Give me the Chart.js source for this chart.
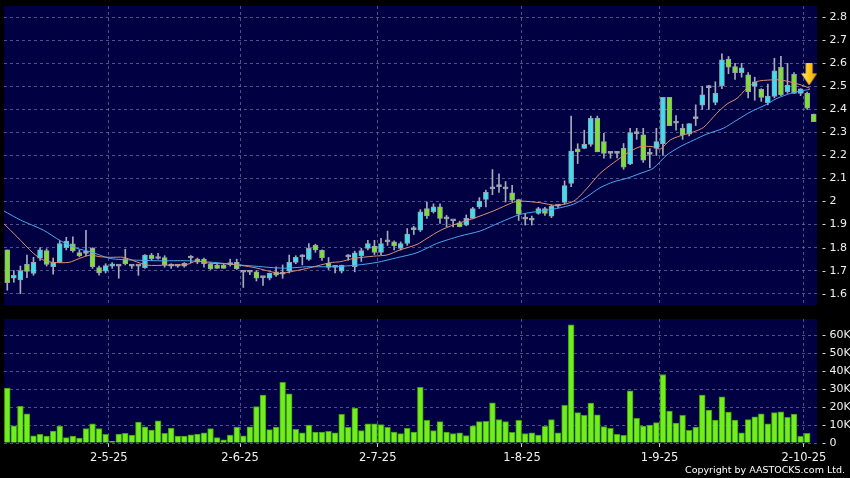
<!DOCTYPE html>
<html>
<head>
<meta charset="utf-8">
<script src="https://cdn.jsdelivr.net/npm/chart.js@4.4.1/dist/chart.umd.min.js"></script>
<style>
  html, body { margin: 0; padding: 0; background: #000; }
  #wrap { position: relative; width: 850px; height: 478px; overflow: hidden; background: #000; }
  #priceChart { position: absolute; left: 0; top: 0; }
  #volChart { position: absolute; left: 0; top: 310px; }
  #copy { position: absolute; right: 5px; top: 465px; color: #fff; font: 9.5px 'DejaVu Sans', sans-serif; line-height: 1; white-space: nowrap; }
</style>
</head>
<body>
<div id="wrap">
  <canvas id="priceChart" width="850" height="312"></canvas>
  <canvas id="volChart" width="850" height="168"></canvas>
  <div id="copy">Copyright by AASTOCKS.com Ltd.</div>
</div>
<script>
// ---- data ----
const dateLabels = ['2-5-25', '2-6-25', '2-7-25', '1-8-25', '1-9-25', '2-10-25'];
const dateTickPos = [15.5, 35.5, 56.5, 78.5, 99.5, 121.5];

const priceTicks = [1.6, 1.7, 1.8, 1.9, 2.0, 2.1, 2.2, 2.3, 2.4, 2.5, 2.6, 2.7, 2.8];
const volTicks = [0, 10000, 20000, 30000, 40000, 50000, 60000];
const volTickLabels = ['0', '10K', '20K', '30K', '40K', '50K', '60K'];

const openP = [1.79,1.667,1.66,1.728,1.688,1.754,1.787,1.717,1.737,1.80,
  1.817,1.779,1.775,1.797,1.713,1.698,1.72,1.72,1.752,1.72,
  1.72,1.713,1.768,1.76,1.757,1.72,1.72,1.72,1.755,1.75,
  1.75,1.729,1.724,1.724,1.725,1.736,1.693,1.693,1.695,1.67,
  1.667,1.695,1.685,1.698,1.736,1.76,1.749,1.81,1.788,1.732,
  1.714,1.698,1.76,1.717,1.765,1.797,1.807,1.779,1.825,1.825,
  1.797,1.818,1.878,1.876,1.97,1.956,1.977,1.925,1.916,1.908,
  1.898,1.927,1.977,2.009,2.055,2.065,2.055,2.038,2.009,1.924,
  1.919,1.949,1.97,1.937,1.98,1.996,2.079,2.229,2.231,2.248,
  2.361,2.26,2.209,2.209,2.231,2.163,2.295,2.29,2.205,2.231,
  2.25,2.452,2.34,2.318,2.293,2.36,2.419,2.495,2.43,2.503,
  2.619,2.586,2.56,2.55,2.50,2.487,2.429,2.456,2.583,2.477,
  2.552,2.47,2.47,2.38];
const highP = [1.79,1.70,1.72,1.768,1.758,1.80,1.795,1.755,1.83,1.845,
  1.847,1.79,1.875,1.80,1.72,1.73,1.735,1.725,1.793,1.725,
  1.725,1.77,1.775,1.775,1.765,1.73,1.725,1.735,1.765,1.755,
  1.755,1.735,1.73,1.73,1.75,1.75,1.695,1.695,1.70,1.672,
  1.69,1.717,1.725,1.768,1.765,1.77,1.818,1.815,1.79,1.757,
  1.72,1.724,1.77,1.785,1.797,1.832,1.832,1.84,1.872,1.83,
  1.825,1.883,1.893,1.965,1.998,1.99,1.99,1.94,1.92,1.915,
  1.942,1.975,2.017,2.05,2.139,2.12,2.087,2.07,2.01,1.948,
  1.937,1.975,1.975,1.985,1.985,2.09,2.371,2.251,2.31,2.371,
  2.371,2.296,2.215,2.215,2.252,2.318,2.318,2.318,2.23,2.318,
  2.452,2.452,2.373,2.336,2.339,2.42,2.50,2.505,2.52,2.641,
  2.63,2.60,2.60,2.56,2.54,2.49,2.51,2.622,2.63,2.60,
  2.56,2.49,2.475,2.38];
const lowP = [1.615,1.65,1.60,1.67,1.68,1.745,1.72,1.685,1.735,1.79,
  1.78,1.76,1.765,1.71,1.68,1.69,1.71,1.667,1.725,1.71,
  1.68,1.71,1.745,1.75,1.715,1.71,1.715,1.715,1.735,1.73,
  1.715,1.705,1.71,1.71,1.72,1.705,1.627,1.683,1.655,1.636,
  1.66,1.675,1.667,1.69,1.73,1.725,1.745,1.78,1.745,1.705,
  1.69,1.69,1.745,1.695,1.74,1.79,1.77,1.77,1.81,1.79,
  1.79,1.81,1.857,1.87,1.927,1.95,1.905,1.89,1.89,1.89,
  1.895,1.925,1.97,1.977,2.03,2.04,1.998,2.0,1.918,1.898,
  1.898,1.945,1.94,1.93,1.975,1.99,2.065,2.165,2.23,2.24,
  2.216,2.188,2.188,2.19,2.14,2.16,2.27,2.17,2.147,2.20,
  2.20,2.33,2.31,2.27,2.285,2.33,2.40,2.40,2.42,2.49,
  2.555,2.53,2.54,2.45,2.44,2.435,2.42,2.45,2.46,2.47,
  2.47,2.46,2.40,2.347];
const closeP = [1.648,1.68,1.70,1.697,1.736,1.79,1.727,1.735,1.818,1.829,
  1.787,1.765,1.775,1.717,1.69,1.722,1.73,1.72,1.73,1.72,
  1.72,1.768,1.752,1.753,1.725,1.72,1.72,1.732,1.755,1.737,
  1.73,1.708,1.71,1.71,1.735,1.709,1.693,1.693,1.667,1.67,
  1.688,1.681,1.685,1.736,1.758,1.76,1.797,1.79,1.756,1.714,
  1.714,1.724,1.76,1.778,1.787,1.818,1.779,1.818,1.825,1.808,
  1.818,1.859,1.878,1.956,1.938,1.977,1.927,1.925,1.916,1.891,
  1.927,1.97,2.002,2.04,2.055,2.065,2.055,2.006,1.945,1.924,
  1.919,1.97,1.949,1.98,1.98,2.069,2.219,2.216,2.248,2.361,
  2.216,2.209,2.209,2.209,2.149,2.30,2.295,2.18,2.205,2.26,
  2.452,2.33,2.34,2.289,2.339,2.36,2.463,2.495,2.47,2.615,
  2.583,2.56,2.581,2.477,2.52,2.452,2.458,2.568,2.463,2.506,
  2.47,2.489,2.405,2.347];

// volume in thousands
const volK = [30.5,9.6,20.4,16.3,4,4.8,3.9,6.7,9.4,3,
  3.9,2.8,8,10.7,8,4.8,0.9,5,5.4,4.4,
  11.7,9,7.2,12.4,5.4,8.3,3.9,3.9,4.6,5,
  5.7,8,3,1.7,4.4,8.9,4,9,20.2,26.7,
  7.4,8.9,33.7,27.4,7.6,5.7,10,6.1,6.1,6.5,
  5.7,15.9,8.7,19.4,6.9,10.6,10.6,10.2,8.7,6.1,
  5.2,8.1,6.1,31,12.6,6.9,11.9,6.1,5.2,5.7,
  4.1,9.6,11.9,12,22.4,13,11.9,5.9,12.6,5.2,
  5.7,4.4,9.3,13.1,5.6,20.9,65.7,16.9,15.4,22.2,
  15.7,9.1,8.1,4.8,4.3,29,13.7,9.4,10,11.3,
  38.1,17.8,11.1,15.4,7,8.9,26.7,18.3,12.8,25.7,
  17.2,12.8,5.7,13,14.6,16.3,10.6,16.9,17.4,14.3,
  16.1,3.7,5.4,0];

// moving average lines (sampled along the drawn curves)
const ma10X = [-0.5,1.5,4,5.5,7,9.4,11,12.7,14,15.7,17.7,19.3,21.3,24.4,27.4,28.9,31,34,37.6,39.6,
  41.6,43.7,46.2,49.3,50.8,52.8,55.9,57.9,59.9,62.5,64,66,68,71.1,74.2,77.2,78.5,81.3,83.8,86.4,
  88.4,90.4,92.5,94.5,96.5,98.5,99.6,101.1,102.6,104.7,106.2,108.2,109.8,111.3,112.8,114.3,116.4,117.9,119.9,121.5,122.4];
const ma10Y = [1.903,1.847,1.775,1.746,1.736,1.736,1.753,1.768,1.761,1.758,1.758,1.743,1.724,1.724,1.727,1.742,1.732,1.729,1.714,1.700,
  1.688,1.698,1.713,1.735,1.739,1.753,1.763,1.768,1.790,1.814,1.84,1.874,1.898,1.927,1.96,1.997,2.002,1.995,1.983,2.002,
  2.057,2.122,2.169,2.209,2.238,2.238,2.228,2.267,2.285,2.303,2.322,2.383,2.424,2.448,2.492,2.521,2.528,2.528,2.516,2.502,2.492];
const ma20X = [-0.5,2,5.5,8.1,10.6,12.7,15.7,19.3,23.3,27.4,31.5,34.5,37.6,40.6,42.7,45.7,49.3,53.3,56.4,59.4,
  62.5,65.5,69,72.1,75.2,78.2,81.3,83.8,86.4,88.4,90.4,92.5,94.5,96.5,98.5,100.6,102.6,104.7,106.7,109.2,
  111.3,113.4,115.4,117.4,119.5,121,122.4];
const ma20Y = [1.959,1.92,1.876,1.83,1.797,1.782,1.753,1.746,1.743,1.743,1.736,1.727,1.72,1.713,1.711,1.717,1.717,1.724,1.736,1.756,
  1.778,1.818,1.85,1.872,1.91,1.944,1.959,1.970,1.989,2.021,2.06,2.086,2.101,2.122,2.144,2.202,2.238,2.267,2.293,2.318,
  2.354,2.39,2.416,2.448,2.47,2.48,2.487];

const arrowAt = [{ x: 122.3, y: 2.552 }];

// ---- styles ----
const NAVY = '#000042';
const UP = '#3ADFF0', DOWN = '#7DE22C', FLAT = '#B0B0B0';
const GRID = 'rgba(125,125,175,0.65)';
const TXT = '#f0f0f0';

const plotBg = {
  id: 'plotBg',
  beforeDraw(chart) {
    const { ctx, chartArea: a } = chart;
    ctx.save();
    ctx.fillStyle = NAVY;
    ctx.fillRect(a.left, a.top, a.right - a.left, a.bottom - a.top);
    ctx.restore();
  }
};

function candleColor(i) {
  if (closeP[i] > openP[i]) return UP;
  if (closeP[i] < openP[i]) return DOWN;
  return FLAT;
}

function makeArrow() {
  const c = document.createElement('canvas');
  c.width = 16; c.height = 22;
  const g = c.getContext('2d');
  const grad = g.createLinearGradient(0, 0, 16, 0);
  grad.addColorStop(0, '#FFE870');
  grad.addColorStop(0.5, '#FFC81A');
  grad.addColorStop(1, '#E29A00');
  g.fillStyle = grad;
  g.beginPath();
  g.moveTo(4.5, 0); g.lineTo(11.5, 0); g.lineTo(11.5, 10); g.lineTo(16, 10);
  g.lineTo(8, 22); g.lineTo(0, 10); g.lineTo(4.5, 10);
  g.closePath();
  g.fill();
  return c;
}

const idx = openP.map((_, i) => i);

// scales should not push the plot area around for their edge labels
function noEdgePad(s) {
  s.paddingTop = 0; s.paddingBottom = 0; s.paddingLeft = 0; s.paddingRight = 0;
}

function dateX(extra) {
  return Object.assign({
    type: 'linear',
    min: -0.5,
    max: 123.5,
    offset: false,
    afterBuildTicks: s => { s.ticks = dateTickPos.map(v => ({ value: v })); },
    border: { display: false, dash: [3, 3] },
  }, extra);
}

// ---- price panel ----
new Chart(document.getElementById('priceChart'), {
  type: 'bar',
  data: {
    datasets: [
      {
        type: 'line', data: arrowAt, showLine: false,
        pointStyle: makeArrow(), pointRadius: 10, order: 0
      },
      {
        type: 'line', data: ma10X.map((x, k) => ({ x: x, y: ma10Y[k] })),
        borderColor: '#E0906E', borderWidth: 1, pointRadius: 0, tension: 0.25, order: 1
      },
      {
        type: 'line', data: ma20X.map((x, k) => ({ x: x, y: ma20Y[k] })),
        borderColor: '#4CA6F0', borderWidth: 1, pointRadius: 0, tension: 0.25, order: 1
      },
      {
        data: idx.map(i => ({ x: i, y: [openP[i], closeP[i]] })),
        backgroundColor: idx.map(candleColor),
        borderColor: '#98A2AE', borderWidth: 1, borderSkipped: false,
        barThickness: 5, minBarLength: 2, grouped: false, order: 2
      },
      {
        data: idx.map(i => ({ x: i, y: [lowP[i], highP[i]] })),
        backgroundColor: '#A4ACB8', borderWidth: 0,
        barThickness: 1, grouped: false, order: 3
      }
    ]
  },
  options: {
    responsive: false,
    animation: false,
    layout: { autoPadding: false, padding: { left: 4, top: 6, bottom: 7, right: 0 } },
    plugins: { legend: { display: false }, tooltip: { enabled: false } },
    scales: {
      x: dateX({
        grid: { color: GRID, drawTicks: false, offset: false },
        ticks: { display: false },
        afterFit: s => { s.height = 0; noEdgePad(s); }
      }),
      y: {
        position: 'right',
        min: 1.551,
        max: 2.849,
        afterBuildTicks: s => { s.ticks = priceTicks.map(v => ({ value: v })); },
        afterFit: s => { s.width = 33; noEdgePad(s); },
        grid: { color: GRID, drawTicks: false },
        border: { display: false, dash: [3, 3] },
        ticks: {
          color: TXT, padding: 5, autoSkip: false,
          font: { family: 'DejaVu Sans', size: 11 },
          callback: v => '- ' + (Math.round(v * 10) / 10)
        }
      }
    }
  },
  plugins: [plotBg]
});

// ---- volume panel ----
new Chart(document.getElementById('volChart'), {
  type: 'bar',
  data: {
    datasets: [{
      data: idx.map(i => ({ x: i, y: volK[i] * 1000 })),
      backgroundColor: '#72EE1E',
      borderColor: '#3F9A14',
      borderWidth: 1,
      barThickness: 5.8,
      grouped: false
    }]
  },
  options: {
    responsive: false,
    animation: false,
    layout: { autoPadding: false, padding: { left: 4, top: 9, bottom: 0, right: 0 } },
    plugins: { legend: { display: false }, tooltip: { enabled: false } },
    scales: {
      x: dateX({
        grid: { color: GRID, drawTicks: true, tickLength: 4, tickColor: '#c8c8c8', tickBorderDash: [], offset: false },
        afterFit: s => { s.height = 35; noEdgePad(s); },
        ticks: {
          color: TXT, padding: 4, autoSkip: false, maxRotation: 0,
          font: { family: 'DejaVu Sans', size: 11.5 },
          callback: v => { const k = dateTickPos.indexOf(v); return k >= 0 ? dateLabels[k] : ''; }
        }
      }),
      y: {
        position: 'right',
        min: 0,
        max: 69000,
        afterBuildTicks: s => { s.ticks = volTicks.map(v => ({ value: v })); },
        afterFit: s => { s.width = 33; noEdgePad(s); },
        grid: { color: GRID, drawTicks: false },
        border: { display: false, dash: [3, 3] },
        ticks: {
          color: TXT, padding: 5, autoSkip: false,
          font: { family: 'DejaVu Sans', size: 11 },
          callback: v => '- ' + volTickLabels[volTicks.indexOf(v)]
        }
      }
    }
  },
  plugins: [plotBg]
});
</script>
</body>
</html>
